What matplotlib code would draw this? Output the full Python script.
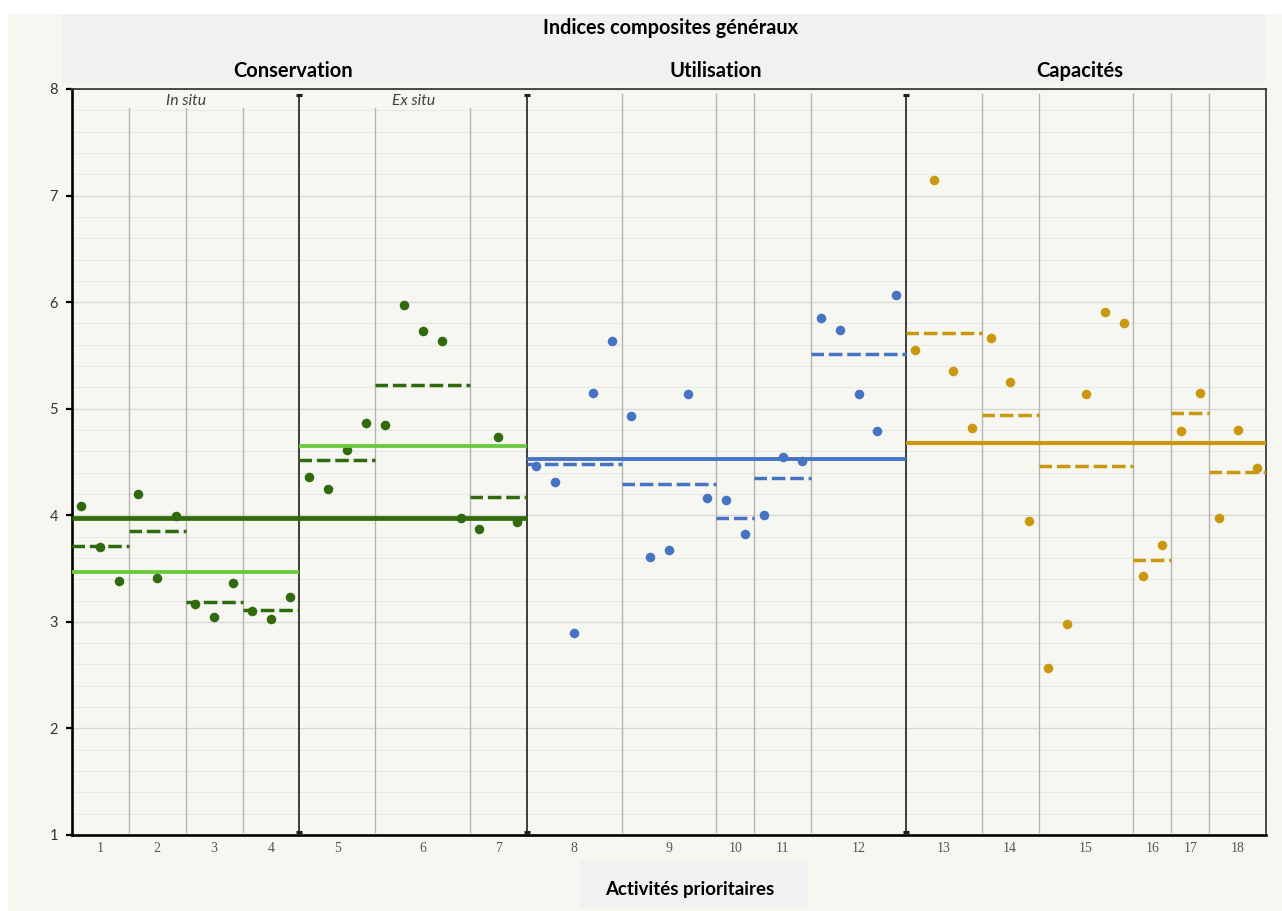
import matplotlib.pyplot as plt
from matplotlib.patches import Rectangle
import numpy as np

plt.rcParams['font.family'] = ['Lato', 'DejaVu Sans']

# --- data ---
groups = ['Conservation', 'Utilisation', 'Capacités']
group_colors = ['#2f6a0d', '#4673c4', '#c9980f']
subgroup_color = '#68c93b'

# one list of composite indices per priority activity (1..18)
scores = [
    [4.09, 3.70, 3.38],                 # 1
    [4.20, 3.41, 3.99],                 # 2
    [3.17, 3.05, 3.36],                 # 3
    [3.10, 3.03, 3.23],                 # 4
    [4.36, 4.25, 4.61, 4.87],           # 5
    [4.85, 5.97, 5.73, 5.64, 3.97],     # 6
    [3.87, 4.73, 3.94],                 # 7
    [4.46, 4.31, 2.90, 5.15, 5.64],     # 8
    [4.93, 3.61, 3.67, 5.14, 4.16],     # 9
    [4.14, 3.82],                       # 10
    [4.00, 4.55, 4.51],                 # 11
    [5.85, 5.74, 5.14, 4.79, 6.07],     # 12
    [5.55, 7.15, 5.35, 4.82],           # 13
    [5.66, 5.25, 3.95],                 # 14
    [2.57, 2.98, 5.14, 5.91, 5.80],     # 15
    [3.43, 3.72],                       # 16
    [4.79, 5.15],                       # 17
    [3.97, 4.80, 4.44],                 # 18
]
activity_group = [0, 0, 0, 0, 0, 0, 0, 1, 1, 1, 1, 1, 2, 2, 2, 2, 2, 2]
activity_means = [3.71, 3.85, 3.19, 3.11, 4.52, 5.22, 4.17,
                  4.48, 4.29, 3.97, 4.35, 5.51,
                  5.71, 4.94, 4.46, 3.58, 4.96, 4.41]
activity_labels = [str(i + 1) for i in range(len(scores))]

subgroups = ['In situ', 'Ex situ']
subgroup_activities = [[0, 1, 2, 3], [4, 5, 6]]
subgroup_means = [3.47, 4.65]

group_means = [3.97, 4.53, 4.68]

BG = '#f7f7f2'
BAND = '#f1f1f1'

# --- positions ---
sizes = [len(s) for s in scores]
starts = np.concatenate([[0], np.cumsum(sizes)])
lo = starts[:-1] - 0.5
hi = starts[1:] - 0.5
centers = (starts[:-1] + starts[1:] - 1) / 2

sub_of = {}
for j, acts in enumerate(subgroup_activities):
    for a in acts:
        sub_of[a] = j

fig = plt.figure(figsize=(12.82, 9.11), dpi=100, facecolor='white')
fig.patches.append(Rectangle((8 / 1282, 0), 1, 897 / 911, transform=fig.transFigure,
                             facecolor=BG, edgecolor='none', zorder=-10))
fig.patches.append(Rectangle((62 / 1282, 828 / 911), 1203 / 1282, 69 / 911,
                             transform=fig.transFigure, facecolor=BAND,
                             edgecolor='none', zorder=-9))
fig.patches.append(Rectangle((580 / 1282, 3 / 911), 228 / 1282, 48 / 911,
                             transform=fig.transFigure, facecolor=BAND,
                             edgecolor='none', zorder=-9))

ax = fig.add_axes([72 / 1282, 76 / 911, 1194 / 1282, 746 / 911])
ax.set_facecolor(BG)
ax.set_xlim(-0.5, starts[-1] - 0.5)
ax.set_ylim(1, 8)

# grid
ax.set_yticks(range(1, 9))
ax.set_yticks(np.arange(1, 8.01, 0.2), minor=True)
ax.grid(which='major', axis='y', color='#d8d8d4', lw=1.0, zorder=0)
ax.grid(which='minor', axis='y', color='#e8e8e4', lw=0.8, zorder=0)
ax.set_axisbelow(True)

# separators between activities
for k in range(len(scores) - 1):
    b = hi[k]
    major = activity_group[k] != activity_group[k + 1] or sub_of.get(k) != sub_of.get(k + 1)
    if major:
        ax.plot([b, b], [1.03, 7.94], color='#1e1e1e', lw=1.2, zorder=2)
        ax.plot([b, b], [1.03, 7.94], ls='none', marker='_', ms=5, mew=2.2,
                color='#1e1e1e', zorder=2)
    else:
        top = 7.82 if activity_group[k] == 0 else 7.95
        ax.plot([b, b], [1.03, top], color='#b4b4b0', lw=1.0, zorder=1)

# points
for k, vals in enumerate(scores):
    x = np.arange(starts[k], starts[k + 1])
    ax.plot(x, vals, 'o', color=group_colors[activity_group[k]], ms=6.9,
            mew=0, zorder=3)

# activity means (dashed)
for k, m in enumerate(activity_means):
    ax.plot([lo[k], hi[k]], [m, m], color=group_colors[activity_group[k]],
            lw=2.5, ls=(0.3, (3.9, 1.4)), dash_capstyle='butt', zorder=4)

# sub-group means
for j, acts in enumerate(subgroup_activities):
    ax.plot([lo[acts[0]], hi[acts[-1]]], [subgroup_means[j]] * 2,
            color=subgroup_color, lw=2.7, solid_capstyle='butt', zorder=4)
    ax.text((lo[acts[0]] + hi[acts[-1]]) / 2, 7.89, subgroups[j],
            ha='center', va='center', fontsize=11.3, style='italic',
            color='#404040')

# group means
group_lw = [3.4, 2.8, 3.0]
for g in range(len(groups)):
    acts = [k for k in range(len(scores)) if activity_group[k] == g]
    ax.plot([lo[acts[0]], hi[acts[-1]]], [group_means[g]] * 2,
            color=group_colors[g], lw=group_lw[g], solid_capstyle='butt',
            zorder=5)

# header texts
group_title_x = [293, 716, 1080]
for g, name in enumerate(groups):
    fig.text(group_title_x[g] / 1282, 1 - 71 / 911, name, ha='center',
             va='center', fontsize=14.5, fontweight='bold', color='black')
fig.text(670 / 1282, 1 - 28 / 911, 'Indices composites généraux', ha='center',
         va='center', fontsize=14.3, fontweight='bold')
fig.text(690 / 1282, 1 - 889 / 911, 'Activités prioritaires', ha='center',
         va='center', fontsize=13.4, fontweight='bold')

# axes
ax.set_xticks(centers)
ax.set_xticklabels(activity_labels, family='Liberation Serif', fontsize=10,
                   color='#555555')
ax.tick_params(axis='x', length=0, pad=5)
ax.tick_params(axis='y', which='major', length=4, width=1.6, color='black',
               labelsize=10.5, labelcolor='#333333', pad=6)
ax.tick_params(axis='y', which='minor', length=0)
for side in ['left', 'bottom']:
    ax.spines[side].set_linewidth(1.9)
    ax.spines[side].set_color('black')
for side in ['top', 'right']:
    ax.spines[side].set_linewidth(1.3)
    ax.spines[side].set_color('#3c3c3c')

fig.savefig('out.png', dpi=100, facecolor=fig.get_facecolor())
